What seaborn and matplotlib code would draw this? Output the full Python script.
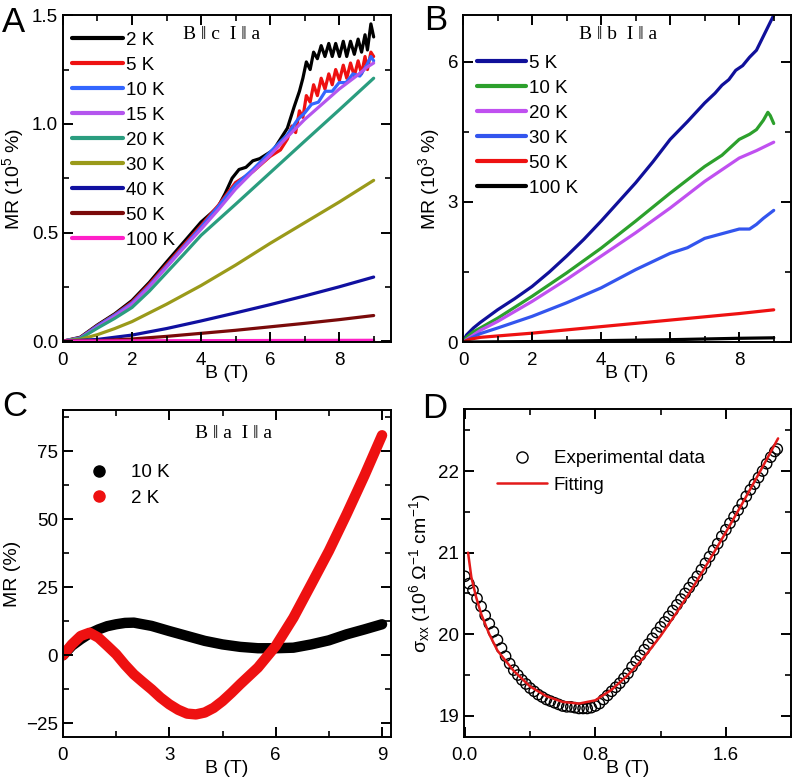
import numpy as np
import matplotlib
matplotlib.use('Agg')
import matplotlib.pyplot as plt
from matplotlib.lines import Line2D
from matplotlib.ticker import MultipleLocator, FormatStrFormatter
import seaborn as sns

# ---- Panel A: B || c, I || a  (MR in 10^5 %) ----
a_labels = ['2 K', '5 K', '10 K', '15 K', '20 K', '30 K', '40 K', '50 K', '100 K']
a_colors = ['#000000', '#ee1111', '#3366ff', '#b455ee', '#2a9d7f', '#9a9a1a', '#1010a0', '#7a0a0a', '#ff20c8']

a_B_2K = [0, 0.5, 1.0, 1.5, 2.0, 2.5, 3.0, 3.5, 4.0, 4.3, 4.5, 4.7, 4.9, 5.1, 5.3, 5.5, 5.7, 5.9, 6.1, 6.3,
          6.5, 6.7, 6.85, 6.95, 7.05, 7.16, 7.26, 7.37, 7.48, 7.59, 7.70, 7.80, 7.90, 8.01, 8.12, 8.22,
          8.33, 8.44, 8.55, 8.65, 8.75, 8.82, 8.92, 9.0]
a_MR_2K = [0, 0.018, 0.075, 0.126, 0.187, 0.27, 0.364, 0.456, 0.548, 0.59, 0.62, 0.68, 0.75, 0.79, 0.80,
           0.83, 0.84, 0.86, 0.88, 0.93, 0.98, 1.08, 1.15, 1.21, 1.285, 1.25, 1.33, 1.30, 1.36, 1.31,
           1.37, 1.31, 1.37, 1.31, 1.38, 1.31, 1.38, 1.32, 1.39, 1.33, 1.41, 1.34, 1.46, 1.40]

a_B_5K = [0, 0.5, 1.0, 1.5, 2.0, 2.5, 3.0, 3.5, 4.0, 4.5, 5.0, 5.5, 6.0, 6.3, 6.5, 6.63, 6.74, 6.85,
          6.95, 7.05, 7.16, 7.26, 7.37, 7.48, 7.59, 7.70, 7.80, 7.90, 8.01, 8.12, 8.22, 8.33, 8.44,
          8.55, 8.65, 8.75, 8.82, 8.92, 9.0]
a_MR_5K = [0, 0.016, 0.072, 0.122, 0.18, 0.262, 0.352, 0.442, 0.532, 0.625, 0.73, 0.78, 0.85, 0.88,
           0.93, 0.99, 0.96, 1.06, 1.03, 1.13, 1.10, 1.18, 1.13, 1.21, 1.16, 1.23, 1.18, 1.25, 1.20,
           1.27, 1.21, 1.28, 1.22, 1.29, 1.23, 1.31, 1.25, 1.33, 1.31]

a_B_10K = [0, 0.5, 1.0, 1.5, 2.0, 2.5, 3.0, 3.5, 4.0, 4.5, 5.0, 5.5, 6.0, 6.5, 6.8, 7.0, 7.2, 7.4,
           7.6, 7.8, 8.0, 8.2, 8.4, 8.6, 8.8, 8.92, 9.0]
a_MR_10K = [0, 0.015, 0.07, 0.12, 0.175, 0.255, 0.345, 0.435, 0.525, 0.62, 0.72, 0.79, 0.87, 0.95,
            1.02, 1.05, 1.09, 1.10, 1.15, 1.15, 1.19, 1.19, 1.23, 1.22, 1.27, 1.31, 1.29]

a_B_15K = [0, 0.5, 1.0, 1.5, 2.0, 2.5, 3.0, 3.5, 4.0, 4.5, 5.0, 5.5, 6.0, 6.5, 7.0, 7.5, 8.0, 8.5, 8.8, 9.0]
a_MR_15K = [0, 0.013, 0.065, 0.115, 0.17, 0.25, 0.34, 0.43, 0.515, 0.605, 0.70, 0.78, 0.855, 0.94,
            1.02, 1.09, 1.16, 1.22, 1.26, 1.28]

a_B_20K = [0, 0.5, 1.0, 1.5, 2.0, 2.5, 3.0, 3.5, 4.0, 5.0, 6.0, 7.0, 8.0, 9.0]
a_MR_20K = [0, 0.012, 0.06, 0.105, 0.155, 0.23, 0.315, 0.40, 0.487, 0.63, 0.775, 0.92, 1.064, 1.21]

a_B_30K = [0, 0.5, 1.0, 1.5, 2.0, 3.0, 4.0, 5.0, 6.0, 7.0, 8.0, 9.0]
a_MR_30K = [0, 0.008, 0.03, 0.058, 0.09, 0.17, 0.256, 0.35, 0.45, 0.545, 0.64, 0.74]

a_B_40K = [0, 1.0, 2.0, 3.0, 4.0, 5.0, 6.0, 7.0, 8.0, 9.0]
a_MR_40K = [0, 0.008, 0.028, 0.058, 0.093, 0.13, 0.168, 0.208, 0.25, 0.295]

a_B_50K = [0, 1.0, 2.0, 3.0, 4.0, 5.0, 6.0, 7.0, 8.0, 9.0]
a_MR_50K = [0, 0.002, 0.01, 0.022, 0.036, 0.05, 0.066, 0.082, 0.099, 0.118]

a_B_100K = [0, 3.0, 6.0, 9.0]
a_MR_100K = [0, 0.002, 0.003, 0.004]

# ---- Panel B: B || b, I || a  (MR in 10^3 %) ----
b_labels = ['5 K', '10 K', '20 K', '30 K', '50 K', '100 K']
b_colors = ['#10109a', '#2ca02c', '#c050f0', '#3355ee', '#ee1111', '#000000']

b_B_5K = [0, 0.1, 0.3, 0.5, 1.0, 1.5, 2.0, 2.5, 3.0, 3.5, 4.0, 4.5, 5.0, 5.5, 6.0, 6.5, 7.0, 7.3, 7.5,
          7.7, 7.9, 8.1, 8.3, 8.5, 8.7, 9.0]
b_MR_5K = [0, 0.15, 0.3, 0.42, 0.69, 0.93, 1.19, 1.5, 1.84, 2.2, 2.59, 3.0, 3.41, 3.86, 4.34, 4.72,
           5.12, 5.33, 5.50, 5.62, 5.82, 5.92, 6.10, 6.25, 6.55, 7.0]

b_B_10K = [0, 0.1, 0.3, 0.5, 1.0, 2.0, 3.0, 4.0, 5.0, 6.0, 7.0, 7.5, 8.0, 8.3, 8.5, 8.7, 8.83, 8.9, 9.0]
b_MR_10K = [0, 0.1, 0.22, 0.3, 0.51, 0.98, 1.48, 2.01, 2.59, 3.19, 3.76, 4.0, 4.34, 4.45, 4.55,
            4.75, 4.92, 4.85, 4.68]

b_B_20K = [0, 0.5, 1.0, 2.0, 3.0, 4.0, 5.0, 6.0, 7.0, 8.0, 8.5, 9.0]
b_MR_20K = [0, 0.25, 0.44, 0.87, 1.34, 1.84, 2.34, 2.87, 3.44, 3.94, 4.1, 4.28]

b_B_30K = [0, 0.5, 1.0, 2.0, 3.0, 4.0, 5.0, 6.0, 6.5, 7.0, 7.5, 8.0, 8.3, 8.5, 8.7, 9.0]
b_MR_30K = [0, 0.18, 0.3, 0.55, 0.84, 1.16, 1.55, 1.9, 2.02, 2.22, 2.32, 2.42, 2.42, 2.52, 2.65, 2.82]

b_B_50K = [0, 0.2, 0.5, 1.0, 2.0, 3.0, 4.0, 5.0, 6.0, 7.0, 8.0, 9.0]
b_MR_50K = [0, 0.06, 0.1, 0.13, 0.19, 0.26, 0.33, 0.40, 0.47, 0.54, 0.61, 0.69]

b_B_100K = [0, 2.0, 4.0, 6.0, 8.0, 9.0]
b_MR_100K = [0, 0.01, 0.03, 0.05, 0.08, 0.09]

# ---- Panel C: B || a, I || a  (MR in %) ----
c_B_10K = [0, 0.25, 0.5, 0.75, 1.0, 1.25, 1.5, 1.75, 2.0, 2.5, 3.0, 3.5, 4.0, 4.5, 5.0, 5.5, 6.0, 6.5,
           7.0, 7.5, 8.0, 8.5, 9.0]
c_MR_10K = [0, 3.5, 5.9, 8.0, 9.5, 10.7, 11.4, 11.9, 12.0, 10.8, 8.9, 7.1, 5.3, 4.0, 3.1, 2.6, 2.6,
            2.8, 4.0, 5.5, 7.7, 9.5, 11.4]

c_B_2K = [0, 0.25, 0.5, 0.75, 1.0, 1.25, 1.5, 1.75, 2.0, 2.25, 2.5, 2.75, 3.0, 3.25, 3.5, 3.75, 4.0,
          4.25, 4.5, 4.75, 5.0, 5.5, 6.0, 6.5, 7.0, 7.5, 8.0, 8.5, 9.0]
c_MR_2K = [0, 4.0, 7.1, 8.3, 6.5, 3.5, 0.4, -3.5, -7.0, -9.8, -12.5, -15.5, -18.0, -20.0, -21.4,
           -21.7, -21.0, -19.3, -16.8, -13.8, -10.6, -4.5, 3.4, 13.8, 26.0, 38.3, 51.8, 65.9, 80.8]

# ---- Panel D: sigma_xx vs B, data and fit ----
d_B_data = [0.0, 0.025, 0.05, 0.075, 0.1, 0.125, 0.15, 0.175, 0.2, 0.225, 0.25, 0.275, 0.3, 0.325,
            0.35, 0.375, 0.4, 0.425, 0.45, 0.475, 0.5, 0.525, 0.55, 0.575, 0.6, 0.625, 0.65, 0.675,
            0.7, 0.725, 0.75, 0.775, 0.8, 0.825, 0.85, 0.875, 0.9, 0.925, 0.95, 0.975, 1.0, 1.025,
            1.05, 1.075, 1.1, 1.125, 1.15, 1.175, 1.2, 1.225, 1.25, 1.275, 1.3, 1.325, 1.35, 1.375,
            1.4, 1.425, 1.45, 1.475, 1.5, 1.525, 1.55, 1.575, 1.6, 1.625, 1.65, 1.675, 1.7, 1.725,
            1.75, 1.775, 1.8, 1.825, 1.85, 1.875, 1.9, 1.915]
d_sig_data = [20.71, 20.62, 20.54, 20.44, 20.34, 20.23, 20.13, 20.03, 19.93, 19.83, 19.73, 19.64,
              19.56, 19.50, 19.44, 19.39, 19.34, 19.30, 19.26, 19.23, 19.20, 19.18, 19.16, 19.14,
              19.12, 19.11, 19.11, 19.10, 19.09, 19.09, 19.09, 19.10, 19.12, 19.15, 19.20, 19.25,
              19.30, 19.35, 19.40, 19.46, 19.52, 19.60, 19.67, 19.74, 19.81, 19.88, 19.95, 20.02,
              20.09, 20.15, 20.22, 20.29, 20.36, 20.43, 20.50, 20.57, 20.64, 20.71, 20.79, 20.87,
              20.95, 21.03, 21.11, 21.20, 21.28, 21.36, 21.44, 21.52, 21.60, 21.69, 21.77, 21.84,
              21.92, 22.00, 22.09, 22.17, 22.24, 22.27]

d_B_fit = [0.02, 0.04, 0.07, 0.1, 0.15, 0.2, 0.3, 0.4, 0.5, 0.6, 0.7, 0.8, 0.9, 1.0, 1.1, 1.2, 1.3,
           1.4, 1.5, 1.6, 1.7, 1.8, 1.92]
d_sig_fit = [21.0, 20.7, 20.45, 20.25, 20.0, 19.8, 19.55, 19.36, 19.24, 19.17, 19.15, 19.19, 19.32,
             19.50, 19.72, 19.98, 20.27, 20.58, 20.91, 21.25, 21.60, 21.96, 22.40]

# ---- style ----
sns.set_style('ticks')
plt.rcParams['font.family'] = ['Liberation Sans', 'DejaVu Sans']
plt.rcParams['mathtext.fontset'] = 'custom'
plt.rcParams['mathtext.rm'] = 'Liberation Sans'
plt.rcParams['mathtext.it'] = 'Liberation Sans:italic'
plt.rcParams['axes.linewidth'] = 1.4
plt.rcParams['axes.edgecolor'] = 'black'
plt.rcParams['axes.axisbelow'] = False
plt.rcParams['xtick.labelsize'] = 13.5
plt.rcParams['ytick.labelsize'] = 13.5
plt.rcParams['axes.labelsize'] = 14
plt.rcParams['text.color'] = 'black'
plt.rcParams['axes.labelcolor'] = 'black'

FS = 13.5
serif = ['Liberation Serif', 'DejaVu Serif']

fig = plt.figure(figsize=(7.96, 7.8), dpi=100)
axA = fig.add_axes([0.0791, 0.5615, 0.412, 0.419])
axB = fig.add_axes([0.5817, 0.5615, 0.412, 0.419])
axC = fig.add_axes([0.0791, 0.0551, 0.412, 0.419])
axD = fig.add_axes([0.5829, 0.0551, 0.411, 0.4205])

# Panel A
a_series = [(a_B_2K, a_MR_2K), (a_B_5K, a_MR_5K), (a_B_10K, a_MR_10K), (a_B_15K, a_MR_15K),
            (a_B_20K, a_MR_20K), (a_B_30K, a_MR_30K), (a_B_40K, a_MR_40K), (a_B_50K, a_MR_50K),
            (a_B_100K, a_MR_100K)]
for (bx, my), lab, col in zip(a_series, a_labels, a_colors):
    sns.lineplot(x=bx, y=my, ax=axA, color=col, lw=2.3, label=lab, legend=False)
axA.set_xlim(0, 9.5)
axA.set_ylim(-0.004, 1.5)
axA.xaxis.set_major_locator(MultipleLocator(2))
axA.xaxis.set_minor_locator(MultipleLocator(1))
axA.yaxis.set_major_locator(MultipleLocator(0.5))
axA.yaxis.set_minor_locator(MultipleLocator(0.25))
axA.set_ylabel('MR (10$^5$ %)')
axA.text(0.485, 0.94, 'B ‖ c  I ‖ a', transform=axA.transAxes, ha='center', va='center',
         fontsize=14, family=serif)
axA.legend(handles=[Line2D([], [], color=c, lw=3) for c in a_colors], labels=a_labels,
           loc='upper left', bbox_to_anchor=(0.027, 0.95), frameon=False, fontsize=FS,
           handlelength=2.75, handletextpad=0.12, labelspacing=0.42, borderpad=0, borderaxespad=0)

# Panel B
b_series = [(b_B_5K, b_MR_5K), (b_B_10K, b_MR_10K), (b_B_20K, b_MR_20K), (b_B_30K, b_MR_30K),
            (b_B_50K, b_MR_50K), (b_B_100K, b_MR_100K)]
for (bx, my), lab, col in zip(b_series, b_labels, b_colors):
    sns.lineplot(x=bx, y=my, ax=axB, color=col, lw=2.3, label=lab, legend=False)
axB.set_xlim(0, 9.5)
axB.set_ylim(0, 7.0)
axB.xaxis.set_major_locator(MultipleLocator(2))
axB.xaxis.set_minor_locator(MultipleLocator(1))
axB.yaxis.set_major_locator(MultipleLocator(3))
axB.yaxis.set_minor_locator(MultipleLocator(1.5))
axB.set_ylabel('MR (10$^3$ %)')
axB.text(0.473, 0.94, 'B ‖ b  I ‖ a', transform=axB.transAxes, ha='center', va='center',
         fontsize=14, family=serif)
axB.legend(handles=[Line2D([], [], color=c, lw=3) for c in b_colors], labels=b_labels,
           loc='upper left', bbox_to_anchor=(0.043, 0.88), frameon=False, fontsize=FS,
           handlelength=2.6, handletextpad=0.15, labelspacing=0.42, borderpad=0, borderaxespad=0)

# Panel C
sns.lineplot(x=c_B_10K, y=c_MR_10K, ax=axC, color='black', lw=7.5, solid_capstyle='round')
sns.lineplot(x=c_B_2K, y=c_MR_2K, ax=axC, color='#ee1111', lw=7.5, solid_capstyle='round')
axC.set_xlim(0, 9.25)
axC.set_ylim(-30, 90)
axC.xaxis.set_major_locator(MultipleLocator(3))
axC.xaxis.set_minor_locator(MultipleLocator(1.5))
axC.yaxis.set_major_locator(MultipleLocator(25))
axC.yaxis.set_minor_locator(MultipleLocator(12.5))
axC.set_ylabel('MR (%)')
axC.text(0.52, 0.93, 'B ‖ a  I ‖ a', transform=axC.transAxes, ha='center', va='center',
         fontsize=14, family=serif)
axC.legend(handles=[Line2D([], [], color='black', marker='o', ls='', ms=8),
                    Line2D([], [], color='#ee1111', marker='o', ls='', ms=8)],
           labels=['10 K', '2 K'], loc='upper left', bbox_to_anchor=(0.065, 0.835), frameon=False,
           fontsize=FS, handlelength=1.6, handletextpad=0.9, labelspacing=0.45, borderpad=0,
           borderaxespad=0)

# Panel D
sns.scatterplot(x=d_B_data, y=d_sig_data, ax=axD, s=55, facecolor='none', edgecolor='black',
                linewidth=1.0, zorder=2)
sns.lineplot(x=d_B_fit, y=d_sig_fit, ax=axD, color='#e31a1a', lw=1.8, zorder=3)
axD.set_xlim(-0.005, 2.0)
axD.set_ylim(18.74, 22.76)
axD.xaxis.set_major_locator(MultipleLocator(0.8))
axD.xaxis.set_minor_locator(MultipleLocator(0.4))
axD.yaxis.set_major_locator(MultipleLocator(1))
axD.yaxis.set_minor_locator(MultipleLocator(0.5))
axD.xaxis.set_major_formatter(FormatStrFormatter('%.1f'))
axD.set_ylabel('σ$_{\\mathrm{xx}}$ (10$^6$ Ω$^{-1}$ cm$^{-1}$)')
axD.legend(handles=[Line2D([], [], color='black', marker='o', mfc='none', ls='', ms=8, mew=1.0),
                    Line2D([], [], color='#e31a1a', lw=1.8)],
           labels=['Experimental data', 'Fitting'], loc='upper left', bbox_to_anchor=(0.1, 0.875),
           frameon=False, fontsize=FS, handlelength=2.7, handletextpad=0.35, labelspacing=0.5,
           borderpad=0, borderaxespad=0)

for ax in (axA, axB, axC, axD):
    ax.set_xlabel('B (T)')
    ax.set_axisbelow(False)
    ax.tick_params(axis='both', which='both', direction='in', top=True, right=True,
                   bottom=True, left=True, color='black', labelcolor='black')
    ax.tick_params(axis='both', which='major', length=7, width=1.4)
    ax.tick_params(axis='both', which='minor', length=4, width=1.2)
    ax.tick_params(axis='x', which='major', pad=7)
    ax.tick_params(axis='y', which='major', pad=3.5)
    ax.xaxis.set_label_coords(0.5, -0.07)

# panel letters
fig.text(0.002, 0.992, 'A', fontsize=25, va='top', ha='left')
fig.text(0.533, 0.995, 'B', fontsize=25, va='top', ha='left')
fig.text(0.003, 0.5, 'C', fontsize=25, va='top', ha='left')
fig.text(0.53, 0.497, 'D', fontsize=25, va='top', ha='left')

fig.savefig('out.png', dpi=100)
